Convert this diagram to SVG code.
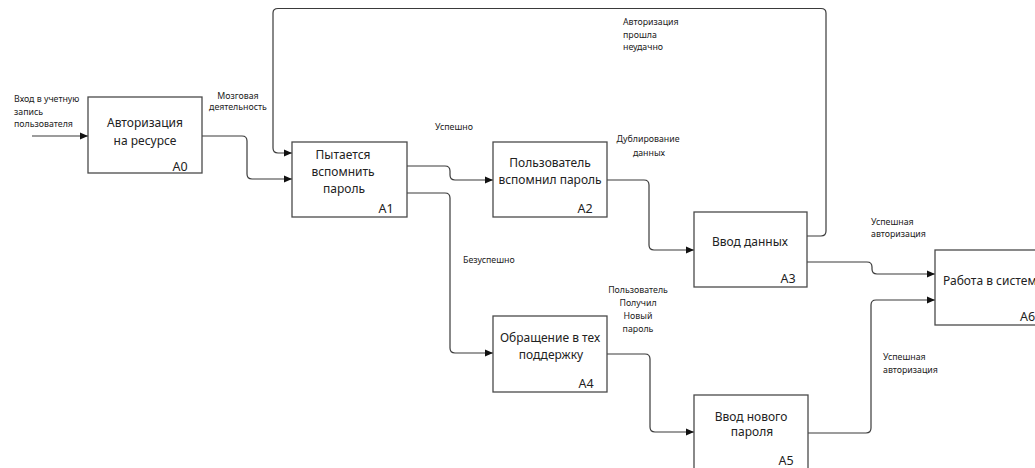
<svg xmlns="http://www.w3.org/2000/svg" width="1035" height="468" viewBox="0 0 1035 468">
<defs>
<marker id="arr" markerWidth="8" markerHeight="8" refX="8" refY="4" orient="auto" markerUnits="userSpaceOnUse">
<path d="M0,0.5 L8,4 L0,7.5 Z" fill="#111"/>
</marker>
<style>
.box{fill:#fff;stroke:#4a4a4a;stroke-width:1.3}
.t{font-family:"Noto Sans","Liberation Sans",sans-serif;font-size:12px;fill:#222;text-anchor:middle}
.id{font-family:"Noto Sans","Liberation Sans",sans-serif;font-size:12.5px;fill:#222;text-anchor:middle}
.s{font-family:"Noto Sans","Liberation Sans",sans-serif;font-size:8.8px;fill:#222}
.sc{font-family:"Noto Sans","Liberation Sans",sans-serif;font-size:8.8px;fill:#222;text-anchor:middle}
.c{fill:none;stroke:#3a3a3a;stroke-width:1.2}
</style>
</defs>
<rect width="1035" height="468" fill="#fff"/>

<g id="connectors">
<path class="c" marker-end="url(#arr)" d="M32,136 H88"/>
<path class="c" marker-end="url(#arr)" d="M202,136 H242 Q247,136 247,141 V174 Q247,179 252,179 H292"/>
<path class="c" marker-end="url(#arr)" d="M807,236 H821 Q826,236 826,231 V13 Q826,8.5 821,8.5 H278 Q273,8.5 273,13 V148 Q273,153 278,153 H292"/>
<path class="c" marker-end="url(#arr)" d="M407,166 H445 Q450,166 450,171 V175 Q450,180 455,180 H493"/>
<path class="c" marker-end="url(#arr)" d="M407,193 H445 Q450,193 450,198 V348 Q450,353 455,353 H493"/>
<path class="c" marker-end="url(#arr)" d="M607,180 H644 Q649,180 649,185 V245 Q649,250 654,250 H694"/>
<path class="c" marker-end="url(#arr)" d="M807,262 H867 Q872,262 872,267 V269 Q872,274 877,274 H935"/>
<path class="c" marker-end="url(#arr)" d="M607,354 H645 Q650,354 650,359 V427 Q650,432 655,432 H694"/>
<path class="c" marker-end="url(#arr)" d="M808,433 H866 Q871,433 871,428 V305 Q871,300 876,300 H935"/>
</g>

<g id="labels">
<text class="s" x="14" y="102">Вход в учетную</text>
<text class="s" x="14" y="114.5">запись</text>
<text class="s" x="14" y="127">пользователя</text>
<text class="sc" x="238" y="99">Мозговая</text>
<text class="sc" x="238" y="110">деятельность</text>
<text class="s" x="623" y="25">Авторизация</text>
<text class="s" x="623" y="37.5">прошла</text>
<text class="s" x="623" y="50">неудачно</text>
<text class="s" x="435" y="130">Успешно</text>
<text class="sc" x="648" y="142">Дублирование</text>
<text class="sc" x="649" y="156">данных</text>
<text class="s" x="463" y="263">Безуспешно</text>
<text class="sc" x="638" y="293">Пользователь</text>
<text class="sc" x="638" y="306">Получил</text>
<text class="sc" x="638" y="319">Новый</text>
<text class="sc" x="638" y="332">пароль</text>
<text class="s" x="871" y="225">Успешная</text>
<text class="s" x="871" y="237">авторизация</text>
<text class="s" x="883" y="360">Успешная</text>
<text class="s" x="883" y="373">авторизация</text>
</g>

<g id="A0">
<rect class="box" x="88" y="97" width="114" height="76"/>
<text class="t" x="145" y="127">Авторизация</text>
<text class="t" x="145" y="145">на ресурсе</text>
<text class="id" x="180" y="171">A0</text>
</g>

<g id="A1">
<rect class="box" x="292" y="142" width="115" height="75"/>
<text class="t" x="343" y="159">Пытается</text>
<text class="t" x="343" y="176">вспомнить</text>
<text class="t" x="344" y="193">пароль</text>
<text class="id" x="386" y="213">A1</text>
</g>

<g id="A2">
<rect class="box" x="493" y="142" width="114" height="75"/>
<text class="t" x="550" y="167">Пользователь</text>
<text class="t" x="550" y="184">вспомнил пароль</text>
<text class="id" x="585" y="213">A2</text>
</g>

<g id="A3">
<rect class="box" x="694" y="212" width="113" height="75"/>
<text class="t" x="750" y="246">Ввод данных</text>
<text class="id" x="788" y="283">A3</text>
</g>

<g id="A4">
<rect class="box" x="493" y="316" width="114" height="76"/>
<text class="t" x="550" y="342">Обращение в тех</text>
<text class="t" x="551" y="359">поддержку</text>
<text class="id" x="586" y="388">A4</text>
</g>

<g id="A5">
<rect class="box" x="694" y="395" width="114" height="80"/>
<text class="t" x="751" y="421">Ввод нового</text>
<text class="t" x="752" y="436">пароля</text>
<text class="id" x="786" y="465">A5</text>
</g>

<g id="A6">
<rect class="box" x="935" y="250" width="110" height="75"/>
<text class="t" x="943" y="285" style="text-anchor:start">Работа в системе</text>
<text class="id" x="1020" y="321" style="text-anchor:start">A6</text>
</g>
</svg>
